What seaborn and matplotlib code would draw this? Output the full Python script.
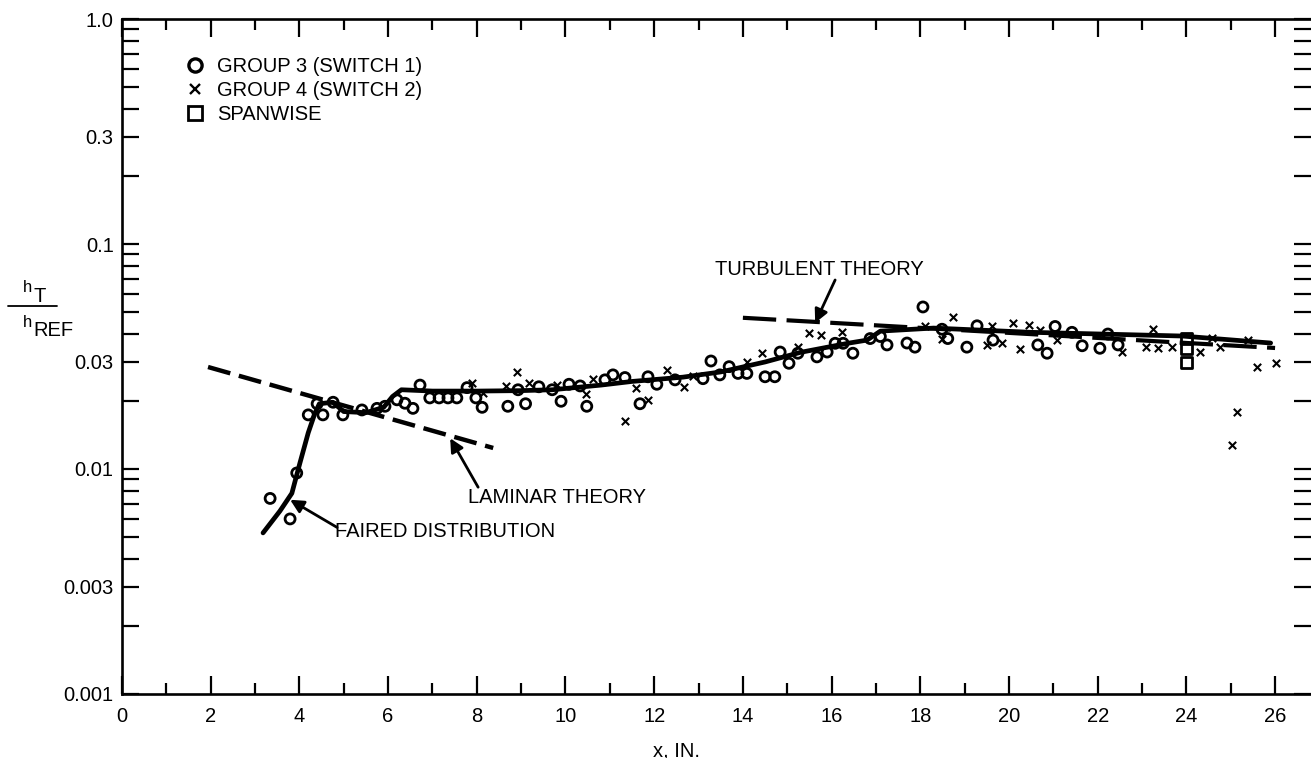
import matplotlib
matplotlib.use("Agg")
import matplotlib.pyplot as plt
from matplotlib.lines import Line2D
from matplotlib.ticker import FixedLocator, FixedFormatter, NullFormatter
import seaborn as sns

# group 3 (switch 1) - open circles
g3_x = [3.34, 3.79, 3.94, 4.2, 4.4, 4.53, 4.76, 4.98, 5.41, 5.75, 5.93, 6.2,
        6.38, 6.56, 6.72, 6.94, 7.15, 7.35, 7.55, 7.78, 7.98, 8.12, 8.7, 8.93,
        9.1, 9.4, 9.7, 9.9, 10.08, 10.33, 10.48, 10.89, 11.07, 11.34, 11.68,
        11.86, 12.06, 12.47, 13.1, 13.28, 13.48, 13.69, 13.89, 14.09, 14.5,
        14.72, 14.84, 15.04, 15.24, 15.67, 15.9, 16.08, 16.26, 16.48, 16.87,
        17.1, 17.25, 17.7, 17.88, 18.06, 18.49, 18.62, 19.05, 19.28, 19.64,
        20.65, 20.86, 21.04, 21.42, 21.65, 22.05, 22.23, 22.46]
g3_y = [0.0074, 0.006, 0.0096, 0.0174, 0.0195, 0.0174, 0.0198, 0.0174, 0.0183,
        0.0186, 0.019, 0.0203, 0.0196, 0.0186, 0.0236, 0.0207, 0.0207, 0.0207,
        0.0207, 0.023, 0.0207, 0.0188, 0.019, 0.0225, 0.0195, 0.0232, 0.0225,
        0.02, 0.0238, 0.0234, 0.019, 0.0249, 0.0262, 0.0255, 0.0195, 0.0257,
        0.0238, 0.0249, 0.0252, 0.0302, 0.0262, 0.0285, 0.0266, 0.0266, 0.0257,
        0.0257, 0.0331, 0.0295, 0.0327, 0.0315, 0.0331, 0.0362, 0.0362, 0.0327,
        0.038, 0.0388, 0.0356, 0.0363, 0.0348, 0.0525, 0.0418, 0.038, 0.0348,
        0.0433, 0.0374, 0.0356, 0.0327, 0.043, 0.0405, 0.0353, 0.0344, 0.0398,
        0.0356]

# group 4 (switch 2) - crosses
g4_x = [7.89, 8.14, 8.66, 8.9, 9.18, 9.81, 10.46, 10.62, 11.34, 11.6, 11.86,
        12.29, 12.67, 12.88, 14.09, 14.43, 15.24, 15.49, 15.76, 16.23, 18.1,
        18.49, 18.74, 19.5, 19.62, 19.84, 20.09, 20.25, 20.45, 20.7, 21.08,
        22.55, 23.1, 23.25, 23.36, 23.68, 24.31, 24.58, 24.76, 25.03, 25.14,
        25.39, 25.59, 26.02]
g4_y = [0.0241, 0.0218, 0.0234, 0.027, 0.0241, 0.0236, 0.0215, 0.0252, 0.0164,
        0.023, 0.0203, 0.0275, 0.0232, 0.026, 0.03, 0.0327, 0.0349, 0.0401,
        0.0394, 0.0405, 0.043, 0.0377, 0.0474, 0.0356, 0.0433, 0.0362, 0.0444,
        0.0341, 0.0436, 0.0415, 0.0374, 0.033, 0.0348, 0.0418, 0.0344, 0.0348,
        0.033, 0.0381, 0.0348, 0.0128, 0.0179, 0.0374, 0.0283, 0.0295]

# spanwise - squares
span_x = [24.0, 24.0, 24.0]
span_y = [0.038, 0.0344, 0.0297]

# faired distribution
fair_x = [3.18, 3.56, 3.83, 4.01, 4.2, 4.35, 4.45, 4.75, 5.0, 5.5, 5.9, 6.1,
          6.3, 7.0, 8.0, 9.0, 9.7, 10.8, 11.5, 12.65, 13.5, 14.5, 15.3, 16.4,
          16.8, 17.1, 18.3, 20.5, 23.9, 25.9]
fair_y = [0.0052, 0.0065, 0.0078, 0.0106, 0.0145, 0.0177, 0.0195, 0.0198,
          0.018, 0.0178, 0.0188, 0.021, 0.0225, 0.0222, 0.0222, 0.0223, 0.0225,
          0.0236, 0.0245, 0.0256, 0.027, 0.0299, 0.033, 0.0363, 0.0374, 0.041,
          0.0423, 0.0405, 0.039, 0.0363]

# theories
lam_x = [1.94, 8.37]
lam_y = [0.0284, 0.0124]
turb_x = [14.0, 26.0]
turb_y = [0.047, 0.0345]

legend_labels = ["GROUP 3 (SWITCH 1)", "GROUP 4 (SWITCH 2)", "SPANWISE"]
y_ticks = [0.001, 0.003, 0.01, 0.03, 0.1, 0.3, 1.0]
y_ticklabels = ["0.001", "0.003", "0.01", "0.03", "0.1", "0.3", "1.0"]

sns.set_theme(style="ticks")
plt.rcParams["font.family"] = ["Liberation Sans", "DejaVu Sans"]
for key in ("text.color", "axes.labelcolor", "xtick.color", "ytick.color",
            "xtick.labelcolor", "ytick.labelcolor"):
    plt.rcParams[key] = "black"
FS = 14.5

W, H = 1311, 758
fig = plt.figure(figsize=(W / 100, H / 100), dpi=100)
fig.patch.set_facecolor("w")
ax = fig.add_axes([122 / W, 64 / H, 1189 / W, 675 / H])

sns.lineplot(x=lam_x, y=lam_y, ax=ax, color="black", lw=3.2,
             linestyle=(0, (5.2, 2.0)))
sns.lineplot(x=turb_x, y=turb_y, ax=ax, color="black", lw=3.0,
             linestyle=(0, (8, 2.5)))
sns.lineplot(x=fair_x, y=fair_y, ax=ax, color="black", lw=3.4)

sns.scatterplot(x=g3_x, y=g3_y, ax=ax, marker="o", s=52, facecolor="none",
                edgecolor="black", linewidth=2.0, zorder=3)
sns.scatterplot(x=g4_x, y=g4_y, ax=ax, marker="x", s=28, color="black",
                linewidth=1.5, zorder=3)
sns.scatterplot(x=span_x, y=span_y, ax=ax, marker="s", s=60, facecolor="none",
                edgecolor="black", linewidth=2.0, zorder=3)

ax.set_yscale("log")
ax.set_xlim(0, 26.81)
ax.set_ylim(0.001, 1.0)

ax.xaxis.set_major_locator(FixedLocator(list(range(0, 27, 2))))
ax.xaxis.set_minor_locator(FixedLocator(list(range(1, 27, 2))))
ax.yaxis.set_major_locator(FixedLocator(y_ticks))
ax.yaxis.set_major_formatter(FixedFormatter(y_ticklabels))
minor_y = [m * 10.0 ** k for k in (-3, -2, -1) for m in (2, 4, 5, 6, 7, 8, 9)]
ax.yaxis.set_minor_locator(FixedLocator(minor_y))
ax.yaxis.set_minor_formatter(NullFormatter())

ax.tick_params(axis="x", which="major", direction="in", length=13, width=1.6,
               top=True, bottom=True, pad=9, labelsize=FS)
ax.tick_params(axis="x", which="minor", direction="in", length=8, width=1.6,
               top=True, bottom=True)
ax.tick_params(axis="y", which="both", direction="in", length=12, width=1.6,
               left=True, right=True, pad=6, labelsize=FS)

for sp in ("left", "bottom", "top"):
    ax.spines[sp].set_linewidth(1.9)
    ax.spines[sp].set_color("black")
ax.spines["right"].set_visible(False)

ax.set_xlabel("x, IN.", fontsize=FS)
ax.xaxis.set_label_coords(0.466, -0.07)
ax.set_ylabel("")

# y label as a stacked fraction
fig.text(23 / W, 1 - 292 / H, "h", fontsize=12, ha="left", va="baseline")
fig.text(33 / W, 1 - 302 / H, "T", fontsize=FS, ha="left", va="baseline")
fig.add_artist(Line2D([8 / W, 57 / W], [1 - 306 / H, 1 - 306 / H],
                      color="black", lw=1.3))
fig.text(23 / W, 1 - 327 / H, "h", fontsize=12, ha="left", va="baseline")
fig.text(33 / W, 1 - 336 / H, "REF", fontsize=FS, ha="left", va="baseline")

handles = [
    Line2D([], [], ls="none", marker="o", ms=9.5, mfc="none", mec="black", mew=2.4),
    Line2D([], [], ls="none", marker="x", ms=7, mec="black", mew=1.7),
    Line2D([], [], ls="none", marker="s", ms=10.5, mfc="none", mec="black", mew=2.0),
]
ax.legend(handles, legend_labels, loc="upper left",
          bbox_to_anchor=(0.053, 0.944), frameon=False, fontsize=FS,
          handlelength=1.0, handletextpad=0.6, labelspacing=0.25,
          borderpad=0, borderaxespad=0)

arrow = dict(arrowstyle="-|>", color="black", lw=2.0, mutation_scale=20,
             shrinkA=0, shrinkB=0)
ax.annotate("TURBULENT THEORY", xy=(15.63, 0.0446), xytext=(13.37, 0.0774),
            fontsize=FS, ha="left", va="center")
ax.annotate("", xy=(15.63, 0.0446), xytext=(16.08, 0.0692), arrowprops=arrow)
ax.annotate("LAMINAR THEORY", xy=(7.4, 0.0137), xytext=(7.8, 0.0075),
            fontsize=FS, ha="left", va="center")
ax.annotate("", xy=(7.4, 0.0137), xytext=(8.03, 0.0083), arrowprops=arrow)
ax.annotate("FAIRED DISTRIBUTION", xy=(3.79, 0.0073), xytext=(4.8, 0.00525),
            fontsize=FS, ha="left", va="center")
ax.annotate("", xy=(3.79, 0.0073), xytext=(4.85, 0.0055), arrowprops=arrow)

fig.savefig("out.png", dpi=100)
